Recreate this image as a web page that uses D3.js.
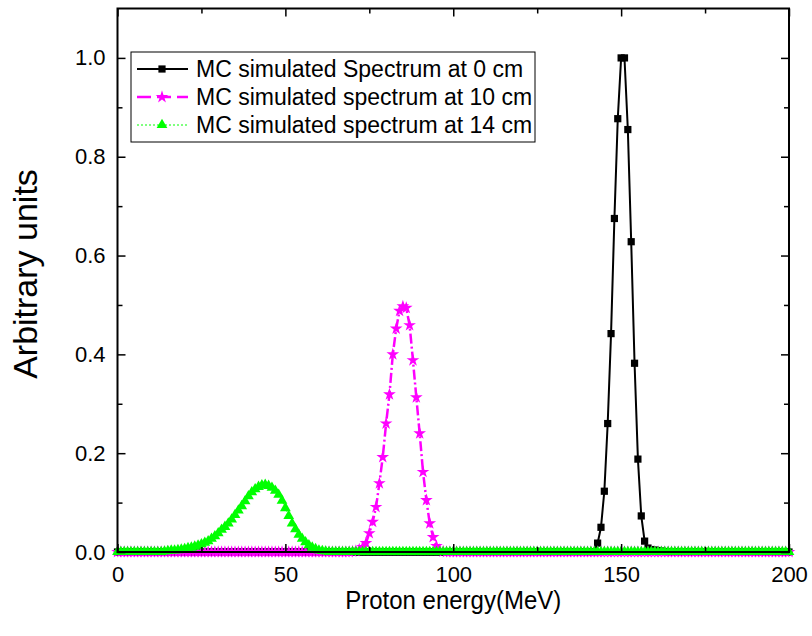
<!DOCTYPE html>
<html>
<head>
<meta charset="utf-8">
<script src="https://cdn.jsdelivr.net/npm/d3@7"></script>
<style>
  body { margin: 0; background: #fff; }
  svg { font-family: Arial, "Liberation Sans", sans-serif; }
</style>
</head>
<body>
<svg id="chart" width="812" height="636"></svg>
<script>
// energy grid (MeV), one point per MeV
var energy = d3.range(0, 201);

// values, keyed by energy; everything else sits on the baseline
var spec0Start = 140;
var spec0 = [0, 0, 0, 0.018, 0.05, 0.123, 0.26, 0.442, 0.675, 0.877,
             1.0, 1.0, 0.855, 0.628, 0.382, 0.188, 0.073, 0.022, 0.008, 0.005,
             0.004, 0.003, 0.002, 0.001, 0];

var spec10Start = 70;
var spec10 = [0.001, 0.002, 0.005, 0.01, 0.018, 0.038, 0.061, 0.091, 0.139, 0.192,
              0.26, 0.319, 0.40, 0.452, 0.488, 0.497, 0.494, 0.459, 0.388, 0.313,
              0.24, 0.162, 0.105, 0.058, 0.03, 0.012, 0.004, 0.001];

var spec14Start = 14;
var spec14 = [0.001, 0.002, 0.003, 0.003, 0.004, 0.005, 0.006, 0.008, 0.009, 0.011,
              0.013, 0.016, 0.019, 0.022, 0.027, 0.032, 0.038, 0.045, 0.051, 0.058,
              0.066, 0.075, 0.084, 0.093, 0.103, 0.113, 0.121, 0.127, 0.132, 0.135,
              0.136, 0.134, 0.13, 0.124, 0.116, 0.104, 0.089, 0.073, 0.058, 0.046,
              0.035, 0.027, 0.02, 0.014, 0.009, 0.006, 0.003, 0.002, 0.001];

var xTicks = [0, 50, 100, 150, 200];
var xMinorTicks = [25, 75, 125, 175];
var yTicks = [0, 0.2, 0.4, 0.6, 0.8, 1.0];
var yMinorTicks = [0.1, 0.3, 0.5, 0.7, 0.9];

var legendLabels = [
    "MC simulated Spectrum at 0 cm",
    "MC simulated spectrum at 10 cm",
    "MC simulated spectrum at 14 cm"
];

function onGrid(start, vals) {
    return energy.map(function(e) {
        var i = e - start;
        return { e: e, v: (i >= 0 && i < vals.length) ? vals[i] : 0 };
    });
}

var series = [
    { name: legendLabels[0], data: onGrid(spec0Start, spec0), color: "#000000", dash: null, width: 2, marker: "square" },
    { name: legendLabels[1], data: onGrid(spec10Start, spec10), color: "#ff00ff", dash: "10 3 2 3", width: 2.5, marker: "star" },
    { name: legendLabels[2], data: onGrid(spec14Start, spec14), color: "#00ff00", dash: "2 2", width: 1, marker: "triangle" }
];

var svg = d3.select("#chart");
var pl = 117.5, pr = 789, pt = 8.5, pb = 552;

var x = d3.scaleLinear().domain([0, 200]).range([pl, pr]);
var y = d3.scaleLinear().domain([0, 1.1]).range([pb, pt]);

var symbols = {
    square: d3.symbol().type(d3.symbolSquare).size(52),
    star: d3.symbol().type(d3.symbolStar).size(50),
    triangle: d3.symbol().type(d3.symbolTriangle).size(50)
};

// curves
var plot = svg.append("g").attr("class", "plot");
var line = d3.line().x(d => x(d.e)).y(d => y(d.v));

series.forEach(function(s) {
    var g = plot.append("g");
    g.append("path")
        .datum(s.data)
        .attr("fill", "none")
        .attr("stroke", s.color)
        .attr("stroke-width", s.width)
        .attr("stroke-dasharray", s.dash)
        .attr("d", line);
    g.selectAll("path.mk")
        .data(s.data)
        .join("path")
        .attr("class", "mk")
        .attr("transform", d => "translate(" + x(d.e) + "," + y(d.v) + ")")
        .attr("fill", s.color)
        .attr("d", symbols[s.marker]);
});

// axes, ticks pointing inward on all four sides
var fs = 22;

function styleAxis(g) {
    g.selectAll("path.domain").remove();
    g.selectAll("line").attr("stroke", "#000").attr("stroke-width", 1.5);
    g.selectAll("text").attr("font-size", fs).attr("fill", "#000").attr("font-family", "Arial, 'Liberation Sans', sans-serif");
}

svg.append("g").attr("transform", "translate(0," + pb + ")")
    .call(d3.axisBottom(x).tickValues(xTicks).tickSize(-8).tickPadding(14).tickFormat(d3.format("d"))).call(styleAxis);
svg.append("g").attr("transform", "translate(0," + pb + ")")
    .call(d3.axisBottom(x).tickValues(xMinorTicks).tickSize(-5).tickFormat("")).call(styleAxis);
svg.append("g").attr("transform", "translate(0," + pt + ")")
    .call(d3.axisTop(x).tickValues(xTicks).tickSize(-8).tickFormat("")).call(styleAxis);
svg.append("g").attr("transform", "translate(0," + pt + ")")
    .call(d3.axisTop(x).tickValues(xMinorTicks).tickSize(-5).tickFormat("")).call(styleAxis);
svg.append("g").attr("transform", "translate(" + pl + ",0)")
    .call(d3.axisLeft(y).tickValues(yTicks).tickSize(-8).tickPadding(12).tickFormat(d3.format(".1f"))).call(styleAxis);
svg.append("g").attr("transform", "translate(" + pl + ",0)")
    .call(d3.axisLeft(y).tickValues(yMinorTicks).tickSize(-5).tickFormat("")).call(styleAxis);
svg.append("g").attr("transform", "translate(" + pr + ",0)")
    .call(d3.axisRight(y).tickValues(yTicks).tickSize(-8).tickFormat("")).call(styleAxis);
svg.append("g").attr("transform", "translate(" + pr + ",0)")
    .call(d3.axisRight(y).tickValues(yMinorTicks).tickSize(-5).tickFormat("")).call(styleAxis);

// frame
svg.append("rect")
    .attr("x", pl).attr("y", pt)
    .attr("width", pr - pl).attr("height", pb - pt)
    .attr("fill", "none").attr("stroke", "#000").attr("stroke-width", 2);

// axis titles
svg.append("text")
    .attr("transform", "translate(" + ((pl + pr) / 2) + ",609) scale(1,1.1)")
    .attr("text-anchor", "middle").attr("font-size", 24)
    .text("Proton energy(MeV)");
svg.append("text")
    .attr("transform", "translate(37,274) rotate(-90)")
    .attr("text-anchor", "middle").attr("font-size", 34)
    .text("Arbitrary units");

// legend
var lg = svg.append("g").attr("class", "legend");
lg.append("rect")
    .attr("x", 131).attr("y", 52).attr("width", 404).attr("height", 90)
    .attr("fill", "#fff").attr("stroke", "#000").attr("stroke-width", 1);

series.forEach(function(s, i) {
    var yy = 69 + i * 28;
    lg.append("line")
        .attr("x1", 137).attr("x2", 188).attr("y1", yy).attr("y2", yy)
        .attr("stroke", s.color).attr("stroke-width", s.width)
        .attr("stroke-dasharray", s.marker === "star" ? "14 6" : s.dash);
    lg.append("path")
        .attr("transform", "translate(162," + yy + ")")
        .attr("fill", s.color)
        .attr("d", symbols[s.marker]);
    lg.append("text")
        .attr("x", 196).attr("y", yy + 8)
        .attr("font-size", 23)
        .text(s.name);
});
</script>
</body>
</html>
